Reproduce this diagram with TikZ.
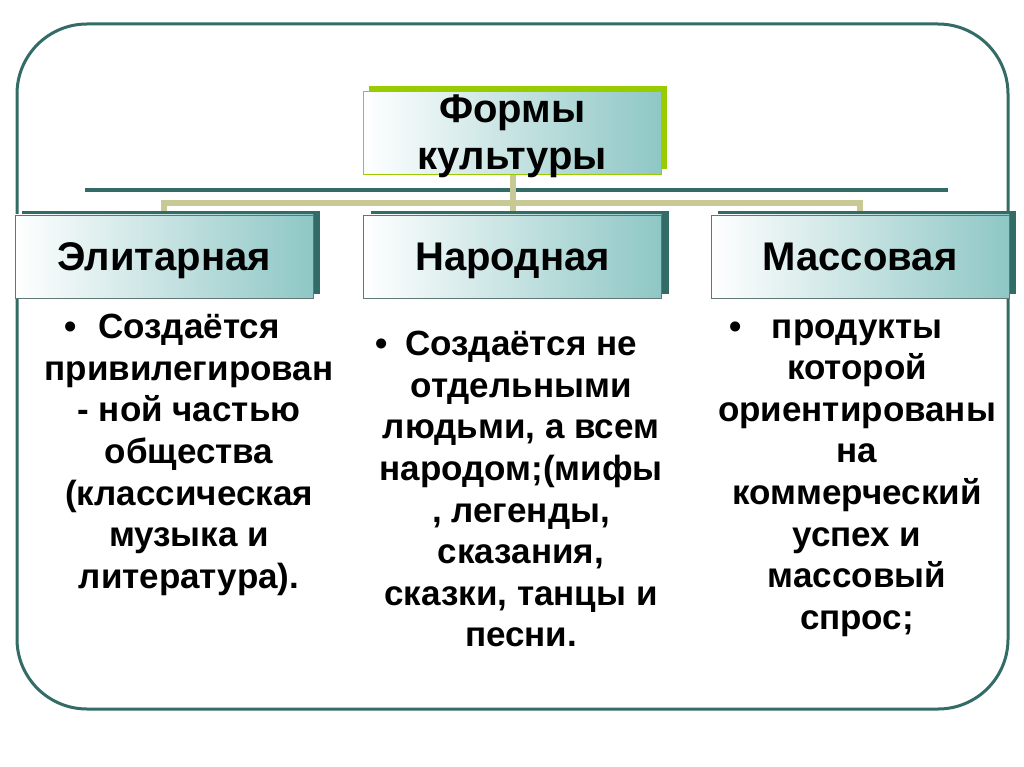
\documentclass[tikz,border=0pt]{standalone}
\usepackage{fontspec}
\setmainfont{Liberation Sans}
\usetikzlibrary{shadows,backgrounds}

\definecolor{frameteal}{HTML}{336B66}
\definecolor{shadeteal}{HTML}{8EC7C5}
\definecolor{bustan}{HTML}{C9C995}
\definecolor{leafgreen}{HTML}{99CC00}

\begin{document}
\begin{tikzpicture}[
    x=1pt, y=-1pt,
    head/.style={draw=gray!60!frameteal, line width=0.8pt, left color=white, right color=shadeteal,
        minimum width=298pt, minimum height=83pt, inner sep=0pt, align=center,
        font=\fontsize{40}{47}\selectfont\bfseries},
    kind/.style={head, text height=28.6pt, text depth=0pt,
        general shadow={fill=frameteal, shadow xshift=7pt, shadow yshift=4pt}},
    root/.style={head, draw=leafgreen, text height=78.5pt, text depth=4.5pt,
        general shadow={fill=leafgreen, shadow xshift=5pt, shadow yshift=5pt}},
    note/.style={anchor=north, align=center, inner sep=0pt, font=\fontsize{35}{41.6}\selectfont\bfseries},
    bus/.style={line width=6pt, bustan}
]
\useasboundingbox (0,0) rectangle (1024,767);
\draw[frameteal, line width=3pt, rounded corners=70pt] (17,24) rectangle (1008,709);

\node[root] (forms) at (512.5,133) {Формы\\культуры};
\node[kind] (elite) at (164,256.5) {Элитарная};
\node[kind] (folk) at (512.5,256.5) {Народная};
\node[kind] (mass) at (860,256.5) {Массовая};

% bus lines behind the boxes
\begin{scope}[on background layer]
\draw[frameteal, line width=4pt] (85,190) -- (948,190);
\draw[bus] (forms.south) -- ++(0,28) coordinate (fork);
\draw[bus] (elite.north) |- (fork) -| (mass.north);
\draw[bus] (fork) -- (folk.north);
\end{scope}

\node[note] (eliteinfo) at (189,314) {\llap{•\hspace{22pt}}Создаётся\\привилегирован\\- ной частью\\общества\\(классическая\\музыка и\\литература).};
\node[note] (folkinfo) at (521,331) {\llap{•\hspace{17pt}}Создаётся не\\отдельными\\людьми, а всем\\народом;(мифы\\, легенды,\\сказания,\\сказки, танцы и\\песни.};
\node[note] (massinfo) at (857,319) {\llap{•\hspace{30pt}}продукты\\которой\\ориентированы\\на\\коммерческий\\успех и\\массовый\\спрос;};
\end{tikzpicture}
\end{document}
